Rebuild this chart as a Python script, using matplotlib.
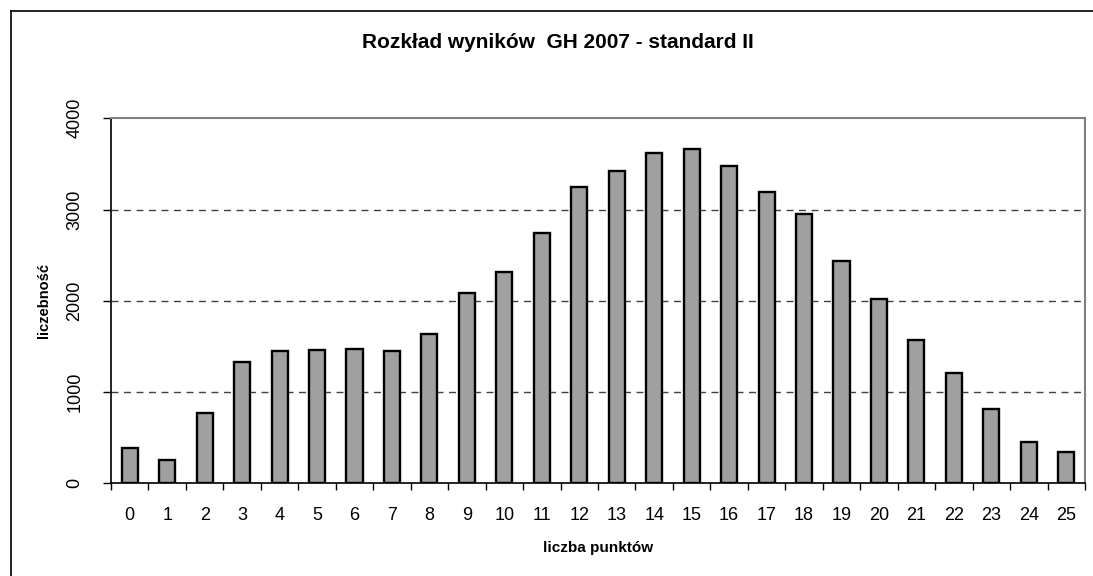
import numpy as np
import matplotlib.pyplot as plt
from matplotlib.lines import Line2D
from matplotlib.ticker import FixedLocator

# data
punkty = list(range(26))
liczebnosc = [384, 255, 767, 1333, 1450, 1462, 1473, 1450, 1637, 2083,
              2320, 2748, 3246, 3417, 3618, 3662, 3477, 3196, 2951, 2433,
              2016, 1570, 1205, 811, 456, 343]
y_ticks = [0, 1000, 2000, 3000, 4000]

title = "Rozkład wyników  GH 2007 - standard II"
xlabel = "liczba punktów"
ylabel = "liczebność"

plt.rcParams['font.family'] = ['Liberation Sans', 'DejaVu Sans']

W, H = 1093, 576
fig = plt.figure(figsize=(W / 100, H / 100), dpi=100)
ax = fig.add_axes([111 / W, 1 - 483.3 / H, (1085 - 111) / W, (483.3 - 118.3) / H])

x = np.array(punkty)
ax.bar(x, liczebnosc, width=0.43, color='#a0a0a0', edgecolor='black',
       linewidth=1.7, zorder=3)

ax.set_xlim(-0.5, len(punkty) - 0.5)
ax.set_ylim(0, 4000)

# dashed grid
for v in y_ticks[1:-1]:
    ax.axhline(v, color='#404040', ls=(0, (5, 4)), lw=1.0, zorder=1)

# spines
ax.spines['top'].set_color('#808080')
ax.spines['right'].set_color('#808080')
ax.spines['top'].set_linewidth(1.5)
ax.spines['right'].set_linewidth(1.5)
ax.spines['left'].set_color('black')
ax.spines['bottom'].set_color('black')
ax.spines['left'].set_linewidth(1.2)
ax.spines['bottom'].set_linewidth(1.2)

# x ticks: labels at centres, marks between categories
ax.set_xticks(x)
ax.set_xticklabels([str(p) for p in punkty])
ax.xaxis.set_minor_locator(FixedLocator(np.arange(-0.5, len(punkty), 1.0)))
ax.tick_params(axis='x', which='major', length=0, pad=17, labelsize=13)
ax.tick_params(axis='x', which='minor', length=5, width=1.0, color='black')

# y ticks, rotated
ax.set_yticks(y_ticks)
ax.set_yticklabels([str(v) for v in y_ticks])
ax.tick_params(axis='y', length=6, width=1.0, pad=14, labelsize=13)
for lab in ax.get_yticklabels():
    lab.set_rotation(90)
    lab.set_va('center')
    lab.set_ha('right')

fig.text(558 / W, 1 - 42 / H, title, ha='center', va='center',
         fontsize=15, fontweight='bold')
fig.text(598 / W, 1 - 548 / H, xlabel, ha='center', va='center',
         fontsize=11, fontweight='bold')
fig.text(44 / W, 1 - 300 / H, ylabel, ha='center', va='center',
         fontsize=10.5, fontweight='bold', rotation=90)

# outer chart frame (cut off at right and bottom)
fig.add_artist(Line2D([11 / W, 11 / W], [1 - 11 / H, 0], color='black',
                      lw=1.2, transform=fig.transFigure))
fig.add_artist(Line2D([11 / W, 1], [1 - 11 / H, 1 - 11 / H], color='black',
                      lw=1.2, transform=fig.transFigure))

fig.savefig('out.png', dpi=100)
